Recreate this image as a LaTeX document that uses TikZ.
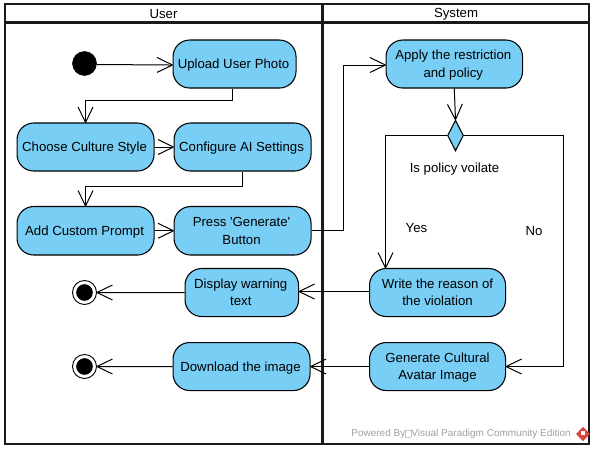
\documentclass[tikz,border=0pt]{standalone}
\usepackage{fontspec}
\setmainfont{Liberation Sans}
\usetikzlibrary{arrows.meta,shapes.geometric}
\definecolor{actfill}{HTML}{78CEF5}
\definecolor{framecol}{HTML}{1A1A1A}
\definecolor{footcol}{HTML}{A0A0A0}
\definecolor{logored}{HTML}{D9443C}
\pgfdeclarearrow{
  name=OpenVee,
  setup code={\pgfarrowssettipend{0pt}\pgfarrowssetlineend{-.6pt}\pgfarrowssetbackend{-11.6pt}\pgfarrowssetvisualbackend{-11.6pt}\pgfarrowshullpoint{0pt}{0pt}\pgfarrowshullpoint{-11.6pt}{5.6pt}\pgfarrowshullpoint{-11.6pt}{-5.6pt}},
  drawing code={\pgfsetdash{}{0pt}\pgfsetbeveljoin\pgfsetbuttcap
    \pgfpathmoveto{\pgfqpoint{-11.6pt}{5.6pt}}\pgfpathlineto{\pgfqpoint{0pt}{0pt}}\pgfpathlineto{\pgfqpoint{-11.6pt}{-5.6pt}}\pgfusepathqstroke},
  defaults={}
}
\tikzset{
  act/.style={draw=black,fill=actfill,line width=.8pt,rounded corners=12.5pt,align=center,inner sep=0pt,
    font=\fontsize{9.9pt}{13.2pt}\selectfont,anchor=north west},
  flow/.style={draw=black,line width=.75pt,-OpenVee},
  plainlab/.style={font=\fontsize{9.9pt}{12pt}\selectfont,inner sep=0pt},
  startdot/.style={circle,fill=black,draw=black,minimum size=18pt,inner sep=0pt},
  endring/.style={circle,fill=white,draw=black,line width=.7pt,minimum size=18pt,inner sep=0pt},
  enddot/.style={circle,fill=black,minimum size=12.5pt,inner sep=0pt},
  decision/.style={diamond,aspect=.53,draw=black,fill=actfill,line width=.8pt,minimum width=12pt,minimum height=23pt,inner sep=0pt},
  lanebar/.style={draw=framecol,line width=2.2pt},
}
\def\acttrail{1.5pt}
\newcommand{\actbox}[6]{\node[act,minimum width=#4*.75pt,minimum height=#5*.75pt] (#1) at (#2,#3)
  {\begin{tabular}{@{}c@{\hspace{\acttrail}}}\noalign{\vskip 1.5pt}#6\end{tabular}};}
\begin{document}
\begin{tikzpicture}[x=.75pt,y=-.75pt]
\useasboundingbox (0,0) rectangle (596,452);
\fill[white] (0,0) rectangle (596,452);
% pool
\draw[draw=framecol,line width=1.5pt] (5,4.5) rectangle (588.5,444);
\draw[lanebar,line width=2.4pt] (5,22.5) -- (588.5,22.5);
\draw[lanebar] (322.5,4.5) -- (322.5,444);
\node[plainlab] (userlane) at (163.5,14.5) {User};
\node[plainlab] (syslane) at (456,14.5) {System};
% activities
\actbox{up}{172.5}{39.5}{123}{48}{Upload User Photo}
\actbox{choose}{16.5}{122.5}{137}{48}{Choose Culture Style}
\actbox{config}{173.5}{122.5}{137}{48}{Configure AI Settings}
\actbox{add}{16.5}{206}{137}{48.5}{Add Custom Prompt}
\actbox{press}{173.5}{206}{137}{48.5}{Press \textquotesingle Generate\textquotesingle\\Button}
\actbox{disp}{184.5}{268}{113.5}{48}{Display warning\\text}
\actbox{down}{172.5}{342}{137}{48}{Download the image}
\actbox{apply}{385.5}{39.5}{136.5}{48}{Apply the restriction\\and policy}
\def\acttrail{0pt}
\actbox{write}{369}{268}{136}{48}{Write the reason of\\the violation}
\actbox{gen}{369}{342}{136}{48}{Generate Cultural\\Avatar Image}
\node[startdot] (start) at (84.5,63.5) {};
\node[endring] (end1) at (84.5,292.5) {};
\node[enddot] (end1dot) at (84.5,292.5) {};
\node[endring] (end2) at (84.5,366.5) {};
\node[enddot] (end2dot) at (84.5,366.5) {};
\node[decision] (dec) at (455.5,135.5) {};
% labels
\node[plainlab] (q) at (454.5,169) {Is policy voilate};
\node[plainlab] (yes) at (416.5,228) {Yes};
\node[plainlab] (no) at (534,231) {No};
% connectors
\draw[flow] ([yshift=-.75pt]start.east) -- ([yshift=-.75pt]up.west);
\draw[flow] ([xshift=-2*.75pt]up.south) -- ++(0,11.5) -| (choose.north);
\draw[flow] (choose.east) -- (config.west);
\draw[flow] ([xshift=-.5*.75pt]config.south) -- ++(0,15) -| (add.north);
\draw[flow] (add.east) -- (press.west);
\draw[flow] (press.east) -- ++(31.5,0) |- ([yshift=-.75pt]apply.west);
\draw[flow] (apply.south) -- (dec.north);
\draw[flow] (dec.west) -| ([xshift=-52*.75pt]write.north);
\draw[flow] (dec.east) -- ++(99.5,0) |- (gen.east);
\draw[flow] ([yshift=.75pt]write.west) -- ([yshift=.75pt]disp.east);
\draw[flow] (disp.west) -- (end1.east);
\draw[flow] (gen.west) -- (down.east);
\draw[flow] (down.west) -- (end2.east);
% footer
\node[inner sep=0pt,anchor=east,text=footcol,font=\fontsize{7.5pt}{9pt}\selectfont] (foot) at (571,434)
  {Powered By\textcolor{footcol!60}{\fboxsep=0pt\fboxrule=.3pt\fbox{\rule{0pt}{5pt}\rule{4pt}{0pt}}}Visual Paradigm Community Edition};
\node[diamond,fill=logored,minimum width=10.5pt,minimum height=11pt,inner sep=0pt] (logo) at (583,434) {};
\node[fill=white,minimum width=2.5pt,minimum height=2.5pt,inner sep=0pt] (logomark) at (583,433) {};
\end{tikzpicture}
\end{document}
